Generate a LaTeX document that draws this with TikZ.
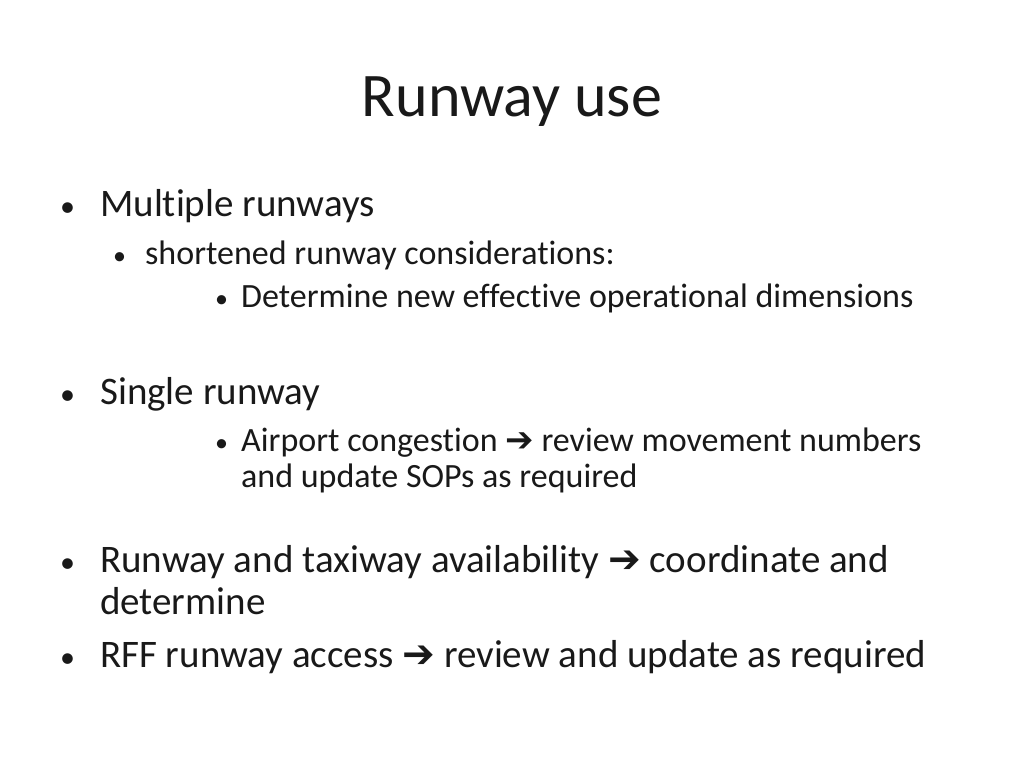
\documentclass[tikz,border=0pt]{standalone}
\usepackage{fontspec}
\setmainfont[Ligatures={NoCommon,NoRare},Contextuals=NoAlternate]{Carlito}
\newfontfamily\arr{DejaVu Sans}
\begin{document}
\begin{tikzpicture}[x=1pt,y=-1pt,
  t/.style={anchor=base west,inner sep=0pt,text=black!90},
  la/.style={t,font=\fontsize{39}{46}\selectfont},
  lb/.style={t,font=\fontsize{34}{40}\selectfont},
  bl/.style={t,font=\fontsize{30}{36}\selectfont},
  bs/.style={t,font=\fontsize{26}{30}\selectfont}]
\useasboundingbox (0,0) rectangle (1024,768);
\newcommand\ar{{\arr\bfseries ➔}}
\node[t,font=\fontsize{62}{70}\selectfont,anchor=base] (title) at (512,116) {Runway use};
\node[bl] (b1) at (60,216) {•};
\node[la] (m) at (100,216) {Multiple runways};
\node[bs] (b2) at (113,264) {•};
\node[lb] (s) at (145,264) {shortened runway considerations:};
\node[bs] (b3) at (215,307) {•};
\node[lb] (d) at (241,307) {Determine new effective operational dimensions};
\node[bl] (b4) at (60,404) {•};
\node[la] (sr) at (100,404) {Single runway};
\node[bs] (b5) at (215,451) {•};
\node[lb] (ac) at (241,451) {Airport congestion \ar{} review movement numbers};
\node[lb] (ac2) at (241,487) {and update SOPs as required};
\node[bl] (b6) at (60,572) {•};
\node[la] (rt) at (100,572) {Runway and taxiway availability \ar{} coordinate and};
\node[la] (rt2) at (100,614) {determine};
\node[bl] (b7) at (60,667) {•};
\node[la] (rff) at (100,667) {RFF runway access \ar{} review and update as required};
\end{tikzpicture}
\end{document}
